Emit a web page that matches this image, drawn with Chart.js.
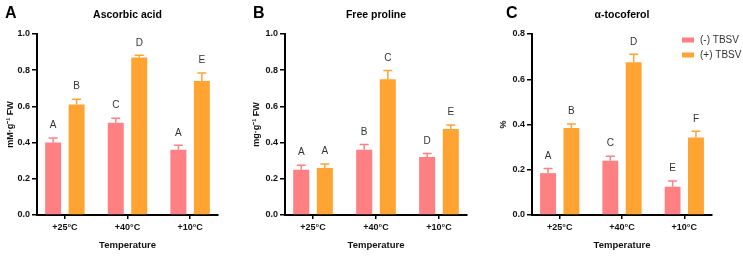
<!DOCTYPE html>
<html>
<head>
<meta charset="utf-8">
<script src="https://cdn.jsdelivr.net/npm/chart.js@4"></script>
<style>
  html, body { margin: 0; padding: 0; background: #fff; }
  #wrap { position: relative; width: 743px; height: 256px; overflow: hidden; }
  #wrap canvas { position: absolute; top: 0; }
</style>
</head>
<body>
<div id="wrap">
  <canvas id="chartA" width="245" height="256" style="left:0px"></canvas>
  <canvas id="chartB" width="248" height="256" style="left:245px"></canvas>
  <canvas id="chartC" width="250" height="256" style="left:493px"></canvas>
</div>
<script>
/* -------------------------------
   Data
--------------------------------*/
const temps = ["+25°C", "+40°C", "+10°C"];

// A. Ascorbic acid
const ascorbicNeg       = [0.40, 0.51, 0.36];
const ascorbicNegErr    = [0.025, 0.025, 0.025];
const ascorbicNegLetter = ["A", "C", "A"];
const ascorbicPos       = [0.61, 0.87, 0.74];
const ascorbicPosErr    = [0.03, 0.012, 0.045];
const ascorbicPosLetter = ["B", "D", "E"];

// B. Free proline
const prolineNeg       = [0.25, 0.36, 0.32];
const prolineNegErr    = [0.025, 0.03, 0.02];
const prolineNegLetter = ["A", "B", "D"];
const prolinePos       = [0.26, 0.75, 0.475];
const prolinePosErr    = [0.022, 0.048, 0.022];
const prolinePosLetter = ["A", "C", "E"];

// C. alpha-tocoferol
const tocoNeg       = [0.185, 0.24, 0.125];
const tocoNegErr    = [0.02, 0.02, 0.025];
const tocoNegLetter = ["A", "C", "E"];
const tocoPos       = [0.385, 0.675, 0.342];
const tocoPosErr    = [0.017, 0.035, 0.028];
const tocoPosLetter = ["B", "D", "F"];

const seriesLabels = ["(-) TBSV", "(+) TBSV"];

const PINK   = "#FF8083";
const ORANGE = "#FFA333";
const FONT   = "'Liberation Sans', Arial, sans-serif";

/* -------------------------------
   Plugin: error bars, letters,
   panel letter, title, legend
--------------------------------*/
const annotate = {
    id: "annotate",
    afterDatasetsDraw(chart) {
        const ctx = chart.ctx;
        const yScale = chart.scales.y;

        chart.data.datasets.forEach((ds, di) => {
            const meta = chart.getDatasetMeta(di);
            meta.data.forEach((bar, i) => {
                const top = yScale.getPixelForValue(ds.data[i] + ds.errors[i]);

                ctx.save();
                ctx.strokeStyle = ds.backgroundColor;
                ctx.lineWidth = 1.5;
                ctx.beginPath();
                ctx.moveTo(bar.x, bar.y);
                ctx.lineTo(bar.x, top);
                ctx.moveTo(bar.x - 4.5, top);
                ctx.lineTo(bar.x + 4.5, top);
                ctx.stroke();

                ctx.fillStyle = "#333";
                ctx.font = "10px " + FONT;
                ctx.textAlign = "center";
                ctx.textBaseline = "middle";
                ctx.fillText(ds.letters[i], bar.x, top - 12.5);
                ctx.restore();
            });
        });
    },
    afterDraw(chart, args, opts) {
        const ctx = chart.ctx;
        const area = chart.chartArea;

        ctx.save();
        ctx.fillStyle = "#000";
        ctx.textBaseline = "middle";

        // panel letter
        ctx.font = "bold 16px " + FONT;
        ctx.textAlign = "left";
        ctx.fillText(opts.letter, opts.letterX, 13.5);

        // panel title
        ctx.font = "bold 10.5px " + FONT;
        ctx.textAlign = "center";
        ctx.fillText(opts.title, (area.left + area.right) / 2, 15);

        // legend (only on last panel)
        if (opts.legend) {
            ctx.font = "10px " + FONT;
            ctx.textAlign = "left";
            chart.data.datasets.forEach((ds, i) => {
                const y = 40 + i * 15;
                ctx.fillStyle = ds.backgroundColor;
                ctx.fillRect(189, y - 2.5, 12, 5);
                ctx.fillStyle = "#333";
                ctx.fillText(ds.label, 207, y);
            });
        }
        ctx.restore();
    }
};

/* -------------------------------
   Panel builder
--------------------------------*/
function makePanel(canvasId, p) {
    const tickFont = { family: FONT, size: 9, weight: "bold" };

    return new Chart(document.getElementById(canvasId), {
        type: "bar",
        data: {
            labels: temps,
            datasets: [
                {
                    label: seriesLabels[0],
                    data: p.neg,
                    errors: p.negErr,
                    letters: p.negLetter,
                    backgroundColor: PINK
                },
                {
                    label: seriesLabels[1],
                    data: p.pos,
                    errors: p.posErr,
                    letters: p.posLetter,
                    backgroundColor: ORANGE
                }
            ]
        },
        options: {
            responsive: false,
            animation: false,
            devicePixelRatio: 1,
            layout: { padding: { top: 34, right: p.padRight, left: 0, bottom: 0 } },
            datasets: {
                bar: { categoryPercentage: 0.75, barPercentage: 0.68 }
            },
            plugins: {
                legend: { display: false },
                tooltip: { enabled: false },
                annotate: {
                    letter: p.letter,
                    letterX: p.letterX,
                    title: p.title,
                    legend: !!p.legend
                }
            },
            scales: {
                x: {
                    grid: {
                        display: true,
                        drawOnChartArea: false,
                        drawTicks: true,
                        tickLength: 4,
                        color: "#000",
                        lineWidth: 1.5,
                        offset: false
                    },
                    border: { display: true, color: "#000", width: 2 },
                    ticks: { color: "#111", font: tickFont, padding: 3, maxRotation: 0 },
                    title: {
                        display: true,
                        text: "Temperature",
                        color: "#111",
                        font: { family: FONT, size: 9.5, weight: "bold" },
                        padding: { top: 0, bottom: 5 }
                    },
                    // GraphPad style: slightly narrower margins at the ends of the axis
                    afterBuildTicks(s) {
                        s._startValue = -0.445;
                        s._valueRange = 2.89;
                    },
                    afterFit(s) { s.height = 41; }
                },
                y: {
                    min: 0,
                    max: p.max,
                    ticks: {
                        stepSize: 0.2,
                        color: "#111",
                        font: tickFont,
                        padding: 2,
                        callback: v => v.toFixed(1)
                    },
                    grid: {
                        display: true,
                        drawOnChartArea: false,
                        drawTicks: true,
                        tickLength: 5,
                        color: "#000",
                        lineWidth: 1.5
                    },
                    border: { display: true, color: "#000", width: 2 },
                    title: {
                        display: true,
                        text: p.yTitle,
                        color: "#111",
                        font: { family: FONT, size: 9, weight: "bold" },
                        padding: { top: p.yTitlePad, bottom: 0 }
                    },
                    afterFit(s) { s.width = p.plotLeft; }
                }
            }
        },
        plugins: [annotate]
    });
}

/* -------------------------------
   Init
--------------------------------*/
makePanel("chartA", {
    letter: "A", letterX: 5, title: "Ascorbic acid",
    yTitle: "mM·g⁻¹ FW", yTitlePad: 5.6, max: 1.0,
    plotLeft: 37, padRight: 27,
    neg: ascorbicNeg, negErr: ascorbicNegErr, negLetter: ascorbicNegLetter,
    pos: ascorbicPos, posErr: ascorbicPosErr, posLetter: ascorbicPosLetter
});

makePanel("chartB", {
    letter: "B", letterX: 8, title: "Free proline",
    yTitle: "mg·g⁻¹ FW", yTitlePad: 6.6, max: 1.0,
    plotLeft: 40, padRight: 26,
    neg: prolineNeg, negErr: prolineNegErr, negLetter: prolineNegLetter,
    pos: prolinePos, posErr: prolinePosErr, posLetter: prolinePosLetter
});

makePanel("chartC", {
    letter: "C", letterX: 13, title: "α-tocoferol",
    yTitle: "%", yTitlePad: 5.1, max: 0.8,
    plotLeft: 39, padRight: 31, legend: true,
    neg: tocoNeg, negErr: tocoNegErr, negLetter: tocoNegLetter,
    pos: tocoPos, posErr: tocoPosErr, posLetter: tocoPosLetter
});
</script>
</body>
</html>
